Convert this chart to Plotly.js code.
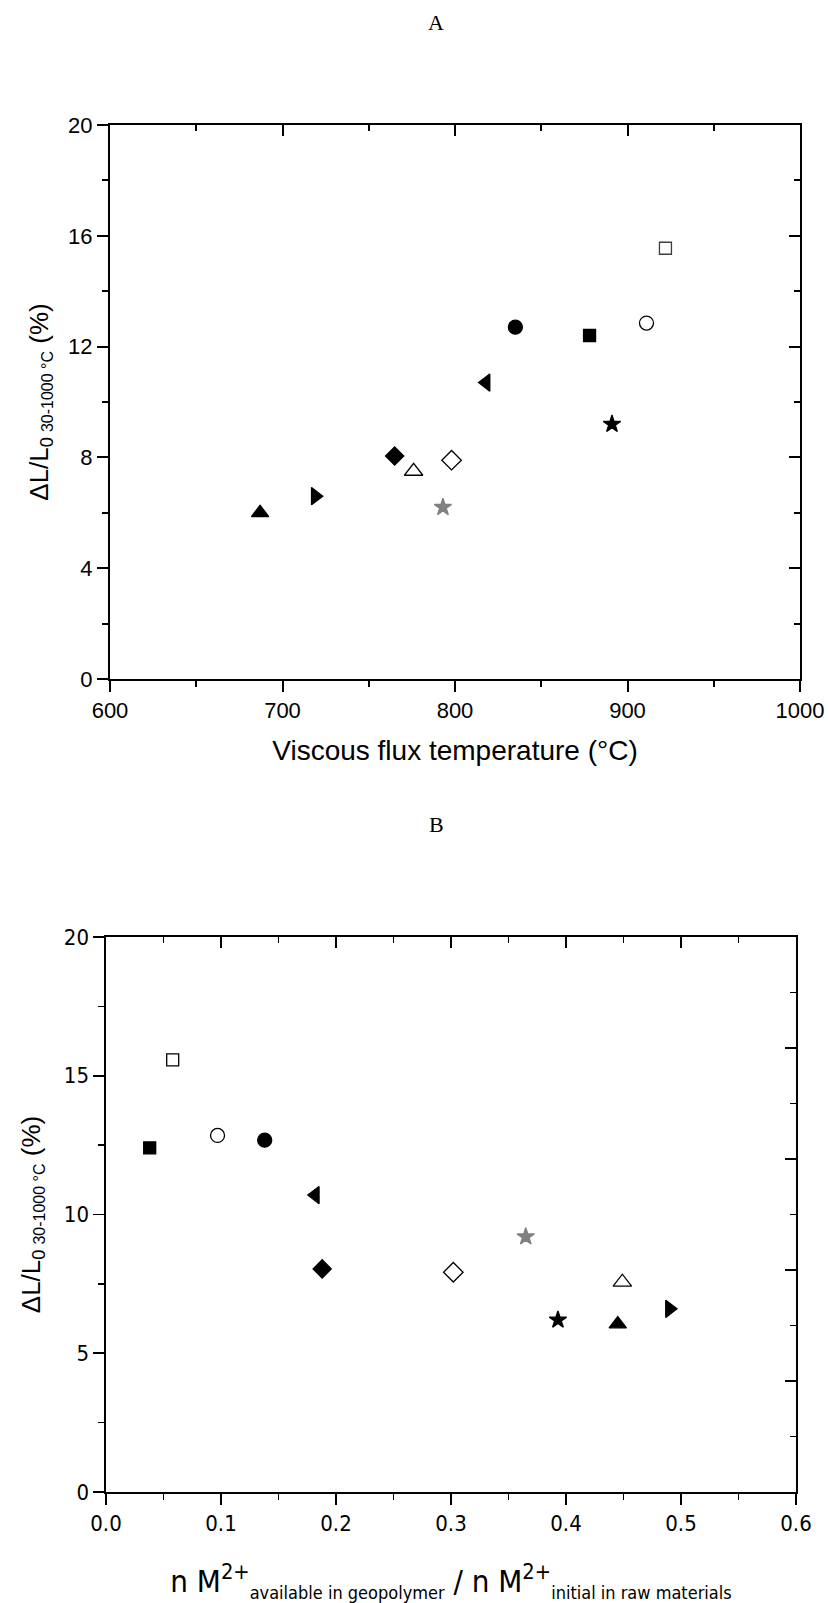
<!DOCTYPE html>
<html>
<head>
<meta charset="utf-8">
<script src="https://cdn.plot.ly/plotly-3.0.1.min.js"></script>
<style>
  html, body { margin: 0; padding: 0; background: #fff; }
  #chart { width: 829px; height: 1603px; }
</style>
</head>
<body>
<div id="chart"></div>
<script>
// ---- data ----
const sampleIds = ["S1","S2","S3","S4","S5","S6","S7","S8","S9","S10","S11","S12"];
// Panel A: viscous flux temperature (°C) vs ΔL/L0 (%)
const viscousTempA = [687, 719, 765, 776, 798, 793, 818, 835, 878, 891, 911, 922];
const expansionA   = [6.0, 6.6, 8.05, 7.5, 7.9, 6.2, 10.7, 12.7, 12.4, 9.2, 12.85, 15.55];
// Panel B: n M2+ available / n M2+ initial vs ΔL/L0 (%)
const ratioB       = [0.445, 0.490, 0.188, 0.449, 0.302, 0.393, 0.182, 0.138, 0.038, 0.365, 0.097, 0.058];
const expansionB   = [6.05, 6.6, 8.04, 7.56, 7.92, 6.2, 10.7, 12.68, 12.4, 9.2, 12.85, 15.57];
// tick values
const yTicksA = [0, 4, 8, 12, 16, 20];
const xTicksA = [600, 700, 800, 900, 1000];
const yTicksB = [0, 5, 10, 15, 20];
const xTicksB = [0.0, 0.1, 0.2, 0.3, 0.4, 0.5, 0.6];

// ---- styles (separate from data) ----
const symbolsA = ["triangle-up","triangle-right","diamond","triangle-up-open","diamond-open","star",
                  "triangle-left","circle","square","star","circle-open","square-open"];
const colorsA  = ["rgb(0,0,0)","rgb(0,0,0)","rgb(0,0,0)","rgb(0,0,0)","rgb(0,0,0)","rgb(128,128,128)",
                  "rgb(0,0,0)","rgb(0,0,0)","rgb(0,0,0)","rgb(0,0,0)","rgb(0,0,0)","rgb(60,60,60)"];
const symbolsB = symbolsA.slice();
const colorsB  = ["rgb(0,0,0)","rgb(0,0,0)","rgb(0,0,0)","rgb(0,0,0)","rgb(0,0,0)","rgb(0,0,0)",
                  "rgb(0,0,0)","rgb(0,0,0)","rgb(0,0,0)","rgb(128,128,128)","rgb(0,0,0)","rgb(0,0,0)"];
const sizes    = [15, 15, 14, 16, 15, 13, 15, 14, 12, 13, 14, 12];

const W = 829, H = 1603;
const fx = p => p / W, fy = p => 1 - p / H;

const fontA = {family: "Liberation Sans, Arial, sans-serif", size: 22, color: "#000"};
const fontB = {family: "Liberation Sans Narrow, Arial Narrow, DejaVu Sans Condensed, Liberation Sans, sans-serif", size: 22, color: "#000"};

const markerOf = (symbols, colors) => ({
  symbol: symbols, color: colors, size: sizes, opacity: 1,
  line: {color: colors, width: 1.3}
});

const traces = [
  {x: viscousTempA, y: expansionA, text: sampleIds, type: "scatter", mode: "markers",
   xaxis: "x", yaxis: "y", hoverinfo: "x+y+text", opacity: 1,
   marker: markerOf(symbolsA, colorsA)},
  {x: ratioB, y: expansionB, text: sampleIds, type: "scatter", mode: "markers",
   xaxis: "x3", yaxis: "y3", hoverinfo: "x+y+text", opacity: 1,
   marker: markerOf(symbolsB, colorsB)}
];

const lineA = {showline: true, linecolor: "#000", linewidth: 2, showgrid: false, zeroline: false,
               tickcolor: "#000", tickwidth: 2, ticklen: 11};
const lineB = {showline: true, linecolor: "#000", linewidth: 1.6, showgrid: false, zeroline: false,
               tickcolor: "#000", tickwidth: 1.6, ticklen: 11};

const domXA = [fx(110), fx(800)], domYA = [fy(679), fy(125)];
const domXB = [fx(106), fx(796)], domYB = [fy(1492), fy(937)];

const yTitleText = "ΔL/L<sub>0 <span style='font-size:16px'>30-1000 °C</span></sub> (%)";
const xTitleB = "n M<sup>2+</sup><sub><span style='font-size:18px'>available in geopolymer</span></sub>" +
                " / n M<sup>2+</sup><sub><span style='font-size:18px'>initial in raw materials</span></sub>";

const layout = {
  width: W, height: H,
  margin: {l: 0, r: 0, t: 0, b: 0},
  paper_bgcolor: "#fff", plot_bgcolor: "#fff",
  showlegend: false,
  // ----- Panel A -----
  xaxis: Object.assign({}, lineA, {domain: domXA, anchor: "y", range: [600, 1000],
    tickmode: "array", tickvals: xTicksA, ticks: "outside", tickfont: fontA,
    minor: {dtick: 50, ticks: "outside", ticklen: 6, tickcolor: "#000", tickwidth: 2},
    title: {text: "Viscous flux temperature (°C)", font: {family: fontA.family, size: 28, color: "#000"}, standoff: 18}}),
  yaxis: Object.assign({}, lineA, {domain: domYA, anchor: "x", range: [0, 20],
    tickmode: "array", tickvals: yTicksA, ticks: "outside", tickfont: fontA,
    minor: {dtick: 2, ticks: "outside", ticklen: 6, tickcolor: "#000", tickwidth: 2},
    title: {text: yTitleText, font: {family: fontA.family, size: 26, color: "#000"}, standoff: 12}}),
  xaxis2: Object.assign({}, lineA, {domain: domXA, overlaying: "x", anchor: "y", side: "top", range: [600, 1000],
    dtick: 100, tick0: 600, ticks: "inside", showticklabels: false,
    minor: {dtick: 50, ticks: "inside", ticklen: 6, tickcolor: "#000", tickwidth: 2}}),
  yaxis2: Object.assign({}, lineA, {domain: domYA, overlaying: "y", anchor: "x", side: "right", range: [0, 20],
    dtick: 4, tick0: 0, ticks: "inside", showticklabels: false,
    minor: {dtick: 2, ticks: "inside", ticklen: 6, tickcolor: "#000", tickwidth: 2}}),
  // ----- Panel B -----
  xaxis3: Object.assign({}, lineB, {domain: domXB, anchor: "y3", range: [0, 0.6],
    tickmode: "array", tickvals: xTicksB, tickformat: ".1f", ticks: "outside", tickfont: fontB,
    minor: {dtick: 0.05, ticks: "outside", ticklen: 6, tickcolor: "#000", tickwidth: 1.6},
    title: {text: xTitleB, font: {family: fontB.family, size: 31, color: "#000"}, standoff: 48}}),
  yaxis3: Object.assign({}, lineB, {domain: domYB, anchor: "x3", range: [0, 20],
    tickmode: "array", tickvals: yTicksB, ticks: "outside", tickfont: fontB,
    minor: {dtick: 2.5, ticks: "outside", ticklen: 6, tickcolor: "#000", tickwidth: 1.6},
    title: {text: yTitleText, font: {family: fontA.family, size: 26, color: "#000"}, standoff: 16}}),
  xaxis4: Object.assign({}, lineB, {domain: domXB, overlaying: "x3", anchor: "y3", side: "top", range: [0, 0.6],
    dtick: 0.1, tick0: 0, ticks: "inside", showticklabels: false,
    minor: {dtick: 0.05, ticks: "inside", ticklen: 6, tickcolor: "#000", tickwidth: 1.6}}),
  yaxis4: Object.assign({}, lineB, {domain: domYB, overlaying: "y3", anchor: "x3", side: "right", range: [0, 20],
    dtick: 4, tick0: 0, ticks: "inside", showticklabels: false,
    minor: {dtick: 2, ticks: "inside", ticklen: 6, tickcolor: "#000", tickwidth: 1.6}}),
  annotations: [
    {text: "A", xref: "paper", yref: "paper", x: fx(436), y: fy(8), showarrow: false,
     font: {family: "Liberation Serif, Times New Roman, serif", size: 22, color: "#000"}},
    {text: "B", xref: "paper", yref: "paper", x: fx(436), y: fy(825), showarrow: false,
     font: {family: "Liberation Serif, Times New Roman, serif", size: 22, color: "#000"}}
  ]
};

// invisible traces to register the overlay axes (drawn first so they sit below the markers)
const overlayA = {x: [600], y: [0], xaxis: "x2", yaxis: "y2", mode: "markers", marker: {opacity: 0}, hoverinfo: "skip"};
const overlayB = {x: [0], y: [0], xaxis: "x4", yaxis: "y4", mode: "markers", marker: {opacity: 0}, hoverinfo: "skip"};

Plotly.newPlot("chart", [overlayA, overlayB].concat(traces), layout, {displayModeBar: false, staticPlot: true});
</script>
</body>
</html>
